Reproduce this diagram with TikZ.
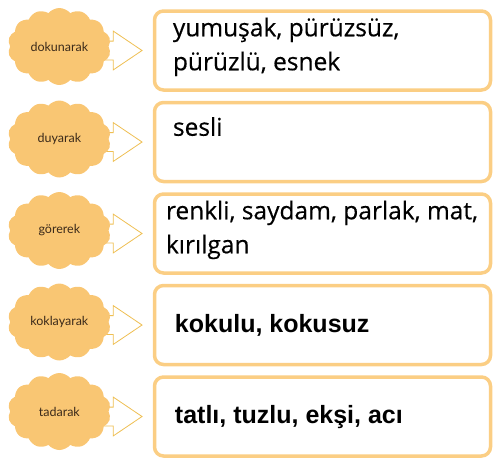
\documentclass[tikz,border=0pt]{standalone}
\usepackage{fontspec}
\usepackage{tikz}
\usetikzlibrary{positioning,shapes.symbols,shapes.arrows}
\newfontfamily\boxfont{Open Sans}[FakeBold=0.4]
\newfontfamily\boldboxfont{Liberation Sans}
\newfontfamily\cloudfont{Lato}
\definecolor{boxline}{HTML}{FBCE84}
\definecolor{cloudfill}{HTML}{F9C673}
\definecolor{arrowline}{HTML}{EFBF52}
\definecolor{cloudtext}{HTML}{3B2A1A}

\begin{document}
\begin{tikzpicture}[x=1pt,y=-1pt,
	propbox/.style={draw=boxline,line width=3.5pt,rounded corners=9pt,fill=white,minimum width=336pt,minimum height=79pt,inner sep=0pt},
	sensecloud/.style={cloud,cloud puffs=14,cloud puff arc=100,aspect=1.35,fill=cloudfill,inner sep=0pt,minimum width=103pt,minimum height=77pt,font=\cloudfont\fontsize{12.5}{14}\selectfont,text=cloudtext},
	fatarrow/.style={single arrow,draw=arrowline,line width=0.8pt,fill=white,minimum height=40pt,inner xsep=0pt,inner ysep=9pt,text height=0pt,text depth=0pt,single arrow head extend=10pt,single arrow tip angle=68},
	thintext/.style={anchor=base west,align=left,inner sep=0pt,font=\boxfont\fontsize{24.5}{34}\selectfont},
	boldtext/.style={anchor=base west,align=left,inner sep=0pt,font=\boldboxfont\bfseries\fontsize{25}{30}\selectfont}]
		\useasboundingbox (0,0) rectangle (500,467);

		\node[propbox] 									(b1)	at (322.5,50.5) {};
		\node[propbox,node distance=9pt,below=of b1] 	(b2)	{};
		\node[propbox,node distance=9pt,below=of b2] 	(b3)	{};
		\node[propbox,node distance=9pt,below=of b3] 	(b4)	{};
		\node[propbox,node distance=9pt,below=of b4] 	(b5)	{};

		\node[fatarrow,node distance=10pt,left=of b1] 	(a1)	{};
		\node[fatarrow,node distance=10pt,left=of b2] 	(a2)	{};
		\node[fatarrow,node distance=10pt,left=of b3] 	(a3)	{};
		\node[fatarrow,node distance=10pt,left=of b4] 	(a4)	{};
		\node[fatarrow,node distance=10pt,left=of b5] 	(a5)	{};

		\node[sensecloud,node distance=44pt,left=of b1,yshift=4pt] 	(c1)	{dokunarak};
		\node[sensecloud,node distance=44pt,left=of b2,yshift=3pt] 	(c2)	{duyarak};
		\node[sensecloud,node distance=44pt,left=of b3,yshift=3pt] 	(c3)	{görerek};
		\node[sensecloud,node distance=44pt,left=of b4,yshift=3pt] 	(c4)	{koklayarak};
		\node[sensecloud,node distance=44pt,left=of b5,yshift=5pt] 	(c5)	{tadarak};

		\node[thintext] (t1) at ([xshift=20pt,yshift=-61pt]b1.north west) {yumuşak, pürüzsüz,\\pürüzlü, esnek};
		\node[thintext] (t2) at ([xshift=20pt,yshift=-35pt]b2.north west) {sesli};
		\node[thintext] (t3) at ([xshift=13pt,yshift=-61pt]b3.north west) {renkli, saydam, parlak, mat,\\kırılgan};
		\node[boldtext] (t4) at ([xshift=22pt,yshift=-49pt]b4.north west) {kokulu, kokusuz};
		\node[boldtext] (t5) at ([xshift=22pt,yshift=-48pt]b5.north west) {tatlı, tuzlu, ekşi, acı};
	\end{tikzpicture}
\end{document}
